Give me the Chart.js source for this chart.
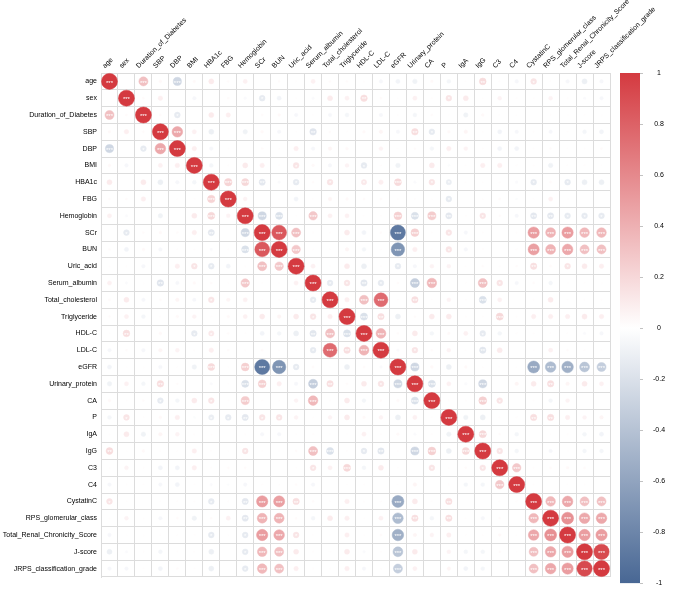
<!DOCTYPE html>
<html>
<head>
<meta charset="utf-8">
<script src="https://cdn.jsdelivr.net/npm/chart.js@4"></script>
<style>
    html, body { margin: 0; padding: 0; background: #ffffff; }
    #wrap { width: 676px; height: 592px; }
</style>
</head>
<body>
<div id="wrap"><canvas id="chart-corr" width="676" height="592"></canvas></div>
<script>
/* Variables, in matrix order (rows top to bottom, columns left to right) */
const variables = [
    'age', 'sex', 'Duration_of_Diabetes', 'SBP', 'DBP', 'BMI', 'HBA1c', 'FBG',
    'Hemoglobin', 'SCr', 'BUN', 'Uric_acid', 'Serum_albumin', 'Total_cholesterol',
    'Triglyceride', 'HDL-C', 'LDL-C', 'eGFR', 'Urinary_protein', 'CA', 'P', 'IgA',
    'IgG', 'C3', 'C4', 'CystatinC', 'RPS_glomerular_class',
    'Total_Renal_Chronicity_Score', 'J-score', 'JRPS_classification_grade'
];

/* Upper triangle of the correlation matrix: each array holds the
   correlations of one variable with every variable listed after it */
const r_age = [0, 0.32, 0.03, -0.26, 0.03, 0.1, 0.02, 0.07, 0, 0.02, 0.01, 0.07, 0.02, 0.02, 0.01, -0.05, -0.07, -0.08, 0.03, -0.06, 0.01, 0.18, 0.01, -0.05, 0.13, 0.01, -0.05, -0.1, -0.05];
const r_sex = [0.02, 0.08, 0, -0.05, 0, 0.02, -0.03, -0.13, -0.07, 0.01, -0.03, 0.1, 0.07, 0.17, 0.02, 0.01, 0.07, 0.01, 0.13, 0.1, 0.01, 0.06, 0.01, 0.01, 0.06, 0.01, -0.03, -0.05];
const r_duration = [0.02, -0.13, 0, 0.1, 0.08, 0, 0.02, 0.03, -0.05, 0.01, -0.05, -0.06, 0, -0.05, 0.01, -0.06, 0.02, 0.01, -0.08, 0.03, 0.01, 0.01, 0, 0.01, 0.01, 0.01, 0.01];
const r_SBP = [0.44, 0.07, -0.1, 0, -0.08, 0.03, -0.05, 0.01, -0.17, 0.02, 0.01, 0.03, 0.05, -0.05, 0.17, -0.13, 0.03, 0.05, 0.01, -0.07, -0.05, 0.01, -0.05, 0.01, -0.06, -0.07];
const r_DBP = [0.08, -0.05, 0.01, 0, 0.02, 0.01, 0.08, -0.05, 0.05, 0.03, 0, 0.06, 0.01, 0.02, -0.06, 0.08, 0.06, 0.01, -0.07, -0.07, 0.01, 0.02, 0.01, 0.01, 0.02];
const r_BMI = [-0.06, 0.01, 0.1, 0.08, 0.01, 0.13, 0.03, -0.05, 0.06, -0.13, 0.01, -0.08, 0, 0.1, -0.02, 0.01, 0.08, 0.08, 0.01, 0.01, -0.08, 0.01, 0.01, 0.01];
const r_HBA1c = [0.22, 0.2, -0.15, -0.03, -0.13, 0.02, 0.13, 0.01, 0.11, 0.08, 0.19, -0.03, 0.13, -0.11, 0.01, 0.01, 0.01, -0.03, -0.13, 0.02, -0.13, -0.1, -0.1];
const r_FBG = [0.06, 0, 0.01, -0.07, 0.01, 0.05, 0.03, 0.02, 0.02, 0.01, 0.01, 0.01, -0.13, 0, 0.01, 0.02, -0.02, 0.01, 0.07, 0.01, 0, 0];
const r_hemoglobin = [-0.26, -0.2, 0.01, 0.28, 0.07, 0.07, 0.01, 0.01, 0.24, -0.2, 0.26, -0.15, 0.01, 0.13, 0.02, -0.05, -0.15, -0.15, -0.13, -0.13, -0.13];
const r_SCr = [0.85, 0.32, 0.01, 0.01, 0.1, -0.07, 0.02, -0.88, 0.24, 0.01, 0.13, -0.05, 0.01, 0, 0.01, 0.5, 0.38, 0.5, 0.36, 0.36];
const r_BUN = [0.28, 0.01, 0.01, 0.05, -0.06, 0.01, -0.7, 0.08, 0.01, 0.13, -0.05, 0.01, 0, 0.01, 0.48, 0.38, 0.44, 0.32, 0.32];
const r_uricAcid = [0.07, 0.01, 0.1, -0.1, 0.01, -0.13, -0.05, 0.06, 0.06, 0.01, 0.02, 0.01, 0.02, 0.16, 0.02, 0.13, 0.1, 0.08];
const r_albumin = [-0.13, 0.13, -0.16, -0.13, 0.02, -0.32, 0.36, 0.01, 0.01, 0.32, 0.13, -0.05, 0.02, -0.06, 0.01, 0.01, 0.01];
const r_cholesterol = [0.08, 0.32, 0.75, 0.01, 0.16, 0.01, 0.06, 0.01, -0.2, 0.07, 0, 0.01, 0.1, 0.01, 0.01, 0.01];
const r_triglyceride = [-0.2, 0.16, -0.1, 0.02, 0.1, 0.1, 0.01, 0.01, 0.2, 0.01, 0.08, 0.08, 0.08, 0.1, 0.08];
const r_HDL = [0.38, 0.02, 0.1, -0.06, 0.03, 0.07, -0.13, -0.06, 0.01, 0.01, 0.01, 0.01, -0.03, -0.05];
const r_LDL = [-0.03, 0.13, 0.02, 0.06, 0.01, -0.16, 0.1, 0, 0.01, 0.07, 0.02, 0.01, 0.01];
const r_eGFR = [-0.26, 0.03, -0.1, 0.03, 0.01, 0.01, 0.01, -0.56, -0.44, -0.52, -0.38, -0.32];
const r_urinaryProtein = [-0.2, 0.07, -0.03, -0.26, 0, 0.05, 0.1, 0.16, 0.05, 0.1, 0.07];
const r_CA = [0.01, 0.01, 0.24, 0.13, 0, 0.01, -0.06, 0.06, 0, 0];
const r_P = [-0.08, -0.1, 0.01, 0.01, 0.16, 0.16, 0.08, 0.06, 0.05];
const r_IgA = [0.2, 0.02, -0.06, 0, 0.01, 0.01, -0.06, -0.07];
const r_IgG = [0.13, -0.06, 0, -0.05, 0.01, -0.06, -0.06];
const r_C3 = [0.28, 0.01, 0.02, 0.03, 0.02, 0];
const r_C4 = [0.01, 0, 0.01, 0.01, 0];
const r_cystatinC = [0.36, 0.44, 0.32, 0.32];
const r_RPS = [0.56, 0.44, 0.44];
const r_chronicity = [0.5, 0.5];
const r_Jscore = [0.92];

const upperRows = [
    r_age, r_sex, r_duration, r_SBP, r_DBP, r_BMI, r_HBA1c, r_FBG, r_hemoglobin,
    r_SCr, r_BUN, r_uricAcid, r_albumin, r_cholesterol, r_triglyceride, r_HDL,
    r_LDL, r_eGFR, r_urinaryProtein, r_CA, r_P, r_IgA, r_IgG, r_C3, r_C4,
    r_cystatinC, r_RPS, r_chronicity, r_Jscore, []
];

/* Colour bar tick labels */
const colorbarTicks = [1, 0.8, 0.6, 0.4, 0.2, 0, -0.2, -0.4, -0.6, -0.8, -1];

// Colours at r = 1 and r = -1, white at 0
const RED = [212, 58, 64];
const BLUE = [72, 103, 148];
const GRID = '#dcdcdc';
const MAX_R = 8;

function corrColor(v) {
    const t = Math.min(1, Math.abs(v));
    const c = v >= 0 ? RED : BLUE;
    const mix = (k) => Math.round(255 + (c[k] - 255) * t);
    return 'rgb(' + mix(0) + ',' + mix(1) + ',' + mix(2) + ')';
}

// significance marks
function stars(v) {
    const a = Math.abs(v);
    if (a >= 0.19) return '***';
    if (a >= 0.15) return '**';
    if (a >= 0.11) return '*';
    return '';
}

/* Build the full symmetric matrix */
const n = variables.length;
const corr = variables.map(() => new Array(n).fill(0));
for (let i = 0; i < n; i++) {
    corr[i][i] = 1;
    upperRows[i].forEach((v, k) => {
        corr[i][i + 1 + k] = v;
        corr[i + 1 + k][i] = v;
    });
}

const cells = [];
for (let i = 0; i < n; i++) {
    for (let j = 0; j < n; j++) {
        cells.push({ x: variables[j], y: variables[i], v: corr[i][j] });
    }
}

// white stars inside the circles
const starsPlugin = {
    id: 'stars',
    afterDatasetsDraw(chart) {
        const meta = chart.getDatasetMeta(0);
        const ctx = chart.ctx;
        ctx.save();
        ctx.fillStyle = '#ffffff';
        ctx.font = '6px "Liberation Sans", Arial, sans-serif';
        ctx.textAlign = 'center';
        ctx.textBaseline = 'middle';
        meta.data.forEach((pt, k) => {
            const s = stars(cells[k].v);
            if (s) ctx.fillText(s, pt.x, pt.y + 1.5);
        });
        ctx.restore();
    }
};

// gradient colour bar on the cb scale
const colorbarPlugin = {
    id: 'colorbar',
    afterDraw(chart) {
        const s = chart.scales.cb;
        const ctx = chart.ctx;
        const top = s.getPixelForValue(1);
        const bottom = s.getPixelForValue(-1);
        const x0 = s.left + 10;
        const w = 20;
        const grad = ctx.createLinearGradient(0, top, 0, bottom);
        grad.addColorStop(0, corrColor(1));
        grad.addColorStop(0.5, '#ffffff');
        grad.addColorStop(1, corrColor(-1));
        ctx.save();
        ctx.fillStyle = grad;
        ctx.fillRect(x0, top, w, bottom - top);
        ctx.strokeStyle = '#999999';
        ctx.lineWidth = 0.6;
        colorbarTicks.forEach((v) => {
            const y = Math.round(s.getPixelForValue(v)) + 0.5;
            ctx.beginPath();
            ctx.moveTo(x0 + w, y);
            ctx.lineTo(x0 + w + 3, y);
            ctx.stroke();
        });
        ctx.restore();
    }
};

Chart.defaults.font.family = '"Liberation Sans", Arial, sans-serif';
Chart.defaults.font.size = 7;
Chart.defaults.color = '#000000';

new Chart(document.getElementById('chart-corr'), {
    type: 'scatter',
    data: {
        datasets: [{
            data: cells,
            pointRadius: (c) => Math.sqrt(Math.abs(c.raw.v)) * MAX_R,
            pointHoverRadius: (c) => Math.sqrt(Math.abs(c.raw.v)) * MAX_R,
            pointBackgroundColor: (c) => corrColor(c.raw.v),
            pointBorderColor: (c) => corrColor(c.raw.v),
            pointBorderWidth: 0.5
        }]
    },
    options: {
        responsive: false,
        animation: false,
        events: [],
        layout: { padding: { left: 0, top: 0, right: 0, bottom: 15 } },
        plugins: {
            legend: { display: false },
            tooltip: { enabled: false }
        },
        scales: {
            x: {
                type: 'category',
                labels: variables,
                position: 'top',
                offset: true,
                grid: { offset: true, color: GRID, drawTicks: false },
                border: { color: GRID },
                ticks: { autoSkip: false, minRotation: 45, maxRotation: 45, padding: 3 },
                afterFit: (s) => { s.height = 73; }
            },
            y: {
                type: 'category',
                labels: variables,
                position: 'left',
                offset: true,
                grid: { offset: true, color: GRID, drawTicks: false },
                border: { color: GRID },
                ticks: { autoSkip: false, padding: 4 },
                afterFit: (s) => { s.width = 101; }
            },
            cb: {
                type: 'linear',
                display: true,
                position: 'right',
                // the bar runs a few pixels below the matrix, so -1 sits under the plot area
                min: -0.976,
                max: 1,
                // invisible tick marks only push the labels right of the bar
                grid: { display: true, drawOnChartArea: false, drawTicks: true, tickLength: 43, color: 'rgba(0,0,0,0)' },
                border: { display: false },
                ticks: {
                    crossAlign: 'center',
                    padding: 0,
                    callback: (v) => String(+Number(v).toFixed(1))
                },
                afterBuildTicks: (s) => { s.ticks = colorbarTicks.map((v) => ({ value: v })); },
                afterFit: (s) => { s.width = 66; }
            }
        }
    },
    plugins: [starsPlugin, colorbarPlugin]
});
</script>
</body>
</html>
